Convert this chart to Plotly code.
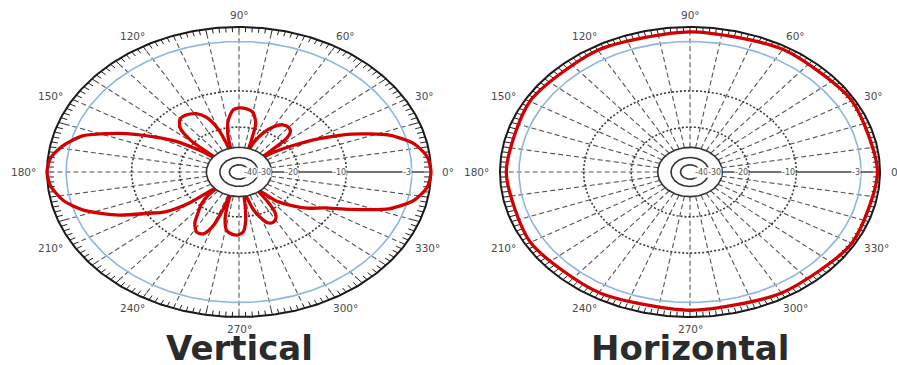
import numpy as np
import plotly.graph_objects as go

# Radial scale: dB level -> fraction of the outer ring
DB_LEVELS = [-50, -40, -30, -20, -10, -3, 0]
RADII = [0.05, 0.10, 0.17, 0.31, 0.56, 0.90, 1.0]

# Vertical-plane pattern (angle in degrees, gain in dB)
V_ANGLE = [0, 6, 12, 18, 24, 28.5, 33, 37, 40,
           41.5, 43, 46, 50, 55, 60, 65, 69, 72,
           73.5, 75.5, 80, 85, 89, 94, 99, 103, 106,
           108, 110, 114, 119, 125, 130, 135, 139, 142,
           144, 147, 151, 157, 163, 169, 174.5, 180,
           185.5, 192, 198, 205.5, 211, 215.5, 219.5, 222.5,
           225, 228.5, 232.5, 237, 242, 246.5, 250, 252, 253.5,
           255, 257.5, 261, 265, 269, 273, 276, 278, 280,
           282.5, 286, 289, 293, 297, 301, 304, 306, 308,
           310, 314, 320, 325, 331, 336, 342, 348, 354, 360]
V_GAIN = [0, -0.4, -2.0, -4.6, -8.3, -13, -19, -26, -33,
          -26, -19, -17, -16.3, -16.5, -18, -21, -26, -33,
          -26, -18.5, -15.7, -14.9, -14.7, -15.2, -18, -24, -33,
          -28, -20, -16, -14, -13.2, -13.3, -15, -19, -33,
          -24, -17, -12.5, -7.5, -4, -1.9, -0.4, 0,
          -0.4, -1.9, -4.0, -7.3, -10.3, -13.5, -19, -33,
          -26, -21, -18.5, -15.5, -13.6, -13.8, -16.5, -22, -33,
          -26, -19, -16, -15.2, -15, -15.8, -19, -26, -33,
          -30, -23, -19.5, -17.2, -16.8, -17.5, -19, -24, -33,
          -30, -22.5, -18, -15, -12, -8.5, -4.6, -2, -0.4, 0]

# Horizontal-plane pattern
H_ANGLE = [0, 30, 60, 90, 120, 150, 180, 210, 240, 270, 300, 330, 360]
H_GAIN = [-0.4, -0.5, -0.7, -1.0, -0.9, -0.8, -1.0, -0.9, -1.2, -1.4, -1.1, -0.5, -0.4]

RING_LABELS = ["-40", "-30", "-20", "-10", "-3"]
RING_LABEL_DB = [-40, -30, -20, -10, -3]
ANGLE_TICKS = list(range(0, 360, 30))
TITLES = ["Vertical", "Horizontal"]

RED = "#d20000"
BLUE = "#8fb5e3"
GRID = "#555555"

W, H = 897, 365
CY, RY = 172, 145
# panel centres and radii in pixels
PANELS = [("x", "y", 239, 192), ("x2", "y2", 690, 190)]


def db_to_r(db):
    return np.interp(db, DB_LEVELS, RADII)


def ellipse(r, a0=0.0, a1=360.0, n=361):
    t = np.radians(np.linspace(a0, a1, n))
    return r * np.cos(t), r * np.sin(t)


def radial_segments(angles, r0, r1):
    xs, ys = [], []
    for a in angles:
        t = np.radians(a)
        xs += [r0 * np.cos(t), r1 * np.cos(t), None]
        ys += [r0 * np.sin(t), r1 * np.sin(t), None]
    return xs, ys


fig = go.Figure()


def add_line(x, y, xa, ya, color, width, dash="solid"):
    fig.add_trace(go.Scatter(x=x, y=y, xaxis=xa, yaxis=ya, mode="lines",
                             line=dict(color=color, width=width, dash=dash),
                             hoverinfo="skip"))


def draw_panel(xa, ya, cx, pat_angle, pat_gain, title):
    r_in = db_to_r(-30)
    r_tick = 0.965
    # dashed spokes every 10 degrees (0 deg drawn solid later)
    sx, sy = radial_segments([a for a in range(10, 360, 10)], r_in, r_tick)
    add_line(sx, sy, xa, ya, GRID, 1.1, "5px,3px")
    # dotted rings at -10 and -20 dB
    for lvl in (-10, -20):
        ex, ey = ellipse(db_to_r(lvl))
        add_line(ex, ey, xa, ya, "#3a3a3a", 1.6, "2px,2px")
    # -3 dB ring
    ex, ey = ellipse(db_to_r(-3))
    add_line(ex, ey, xa, ya, BLUE, 1.6)
    # outer ring with degree ticks
    tx, ty = radial_segments(np.arange(0, 360, 2), r_tick, 1.0)
    add_line(tx, ty, xa, ya, "#222222", 1.0)
    ex, ey = ellipse(1.0)
    add_line(ex, ey, xa, ya, "#1a1a1a", 2.0)
    # antenna pattern
    t = np.radians(pat_angle)
    r = db_to_r(np.array(pat_gain))
    fig.add_trace(go.Scatter(x=r * np.cos(t), y=r * np.sin(t), xaxis=xa, yaxis=ya,
                             mode="lines", line=dict(color=RED, width=3.3, shape="spline",
                                                     smoothing=0.7),
                             hoverinfo="skip"))
    # white hub bounded by the -30 dB ring
    ex, ey = ellipse(r_in)
    fig.add_trace(go.Scatter(x=ex, y=ey, xaxis=xa, yaxis=ya, mode="lines",
                             fill="toself", fillcolor="white",
                             line=dict(color="#333333", width=1.6), hoverinfo="skip"))
    for lvl in (-40, -50):
        ex, ey = ellipse(db_to_r(lvl))
        add_line(ex, ey, xa, ya, "#333333", 1.6)
    # solid 0 deg reference line
    add_line([db_to_r(-50), r_tick], [0, 0], xa, ya, "#444444", 1.3)

    for txt, lvl in zip(RING_LABELS, RING_LABEL_DB):
        fig.add_annotation(x=db_to_r(lvl), y=0, xref=xa, yref=ya, text=txt,
                           showarrow=False, xanchor="right", yanchor="middle",
                           bgcolor="white", borderpad=0,
                           font=dict(family="DejaVu Sans", size=8, color="#555555"))
    for a in ANGLE_TICKS:
        t = np.radians(a)
        c, s = np.cos(t), np.sin(t)
        if c > 0.8:
            x, y, anchor = 1.045 * c, 1.045 * s, "left"
        elif c < -0.8:
            x, y, anchor = 1.045 * c, 1.045 * s, "right"
        else:
            x, y, anchor = 1.11 * c, 1.085 * s, "center"
        fig.add_annotation(x=x, y=y, xref=xa, yref=ya,
                           text=f"{a}°", showarrow=False,
                           xanchor=anchor, yanchor="middle",
                           font=dict(family="DejaVu Sans", size=10.5, color="#4a4a4a"))
    fig.add_annotation(x=cx / W, y=-4 / H, xref="paper", yref="paper",
                       text=f"<b>{title}</b>",
                       showarrow=False, xanchor="center", yanchor="bottom",
                       borderpad=0,
                       font=dict(family="DejaVu Sans", size=34, color="#2b2b2b"))


draw_panel("x", "y", PANELS[0][2], V_ANGLE, V_GAIN, TITLES[0])
draw_panel("x2", "y2", PANELS[1][2], H_ANGLE, H_GAIN, TITLES[1])

yr = [-(H - CY) / RY, CY / RY]
axes = {}
for i, (xa, ya, cx, rx) in enumerate(PANELS):
    sfx = "" if i == 0 else "2"
    axes["xaxis" + sfx] = dict(domain=[0, 1], range=[-cx / rx, (W - cx) / rx],
                               visible=False, anchor=ya)
    axes["yaxis" + sfx] = dict(domain=[0, 1], range=yr, visible=False, anchor=xa)

fig.update_layout(
    width=W, height=H, margin=dict(l=0, r=0, t=0, b=0),
    paper_bgcolor="white", plot_bgcolor="rgba(0,0,0,0)", showlegend=False,
    **axes,
)

fig.write_html("out.html")
